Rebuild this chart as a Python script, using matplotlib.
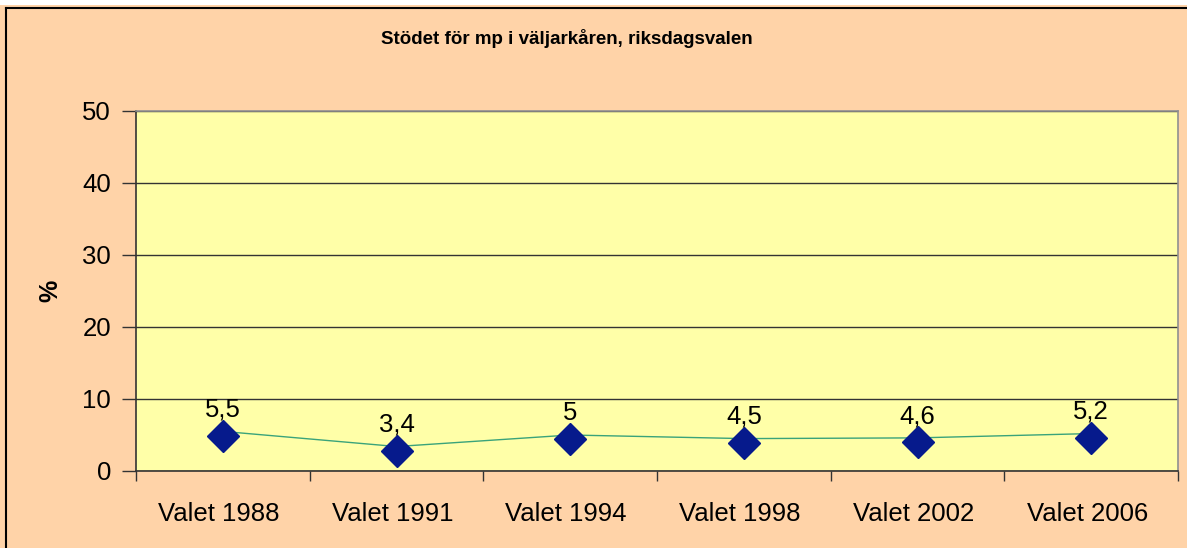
import matplotlib
matplotlib.use("Agg")
import matplotlib.pyplot as plt
from matplotlib.patches import Rectangle
import matplotlib.transforms as mtransforms

categories = ["Valet 1988", "Valet 1991", "Valet 1994", "Valet 1998", "Valet 2002", "Valet 2006"]
values = [5.5, 3.4, 5.0, 4.5, 4.6, 5.2]
labels = ["5,5", "3,4", "5", "4,5", "4,6", "5,2"]
yticks = [0, 10, 20, 30, 40, 50]

plt.rcParams['font.family'] = ['Liberation Sans', 'DejaVu Sans']

W, H = 1187, 548
fig = plt.figure(figsize=(W / 100, H / 100), dpi=100, facecolor='#FFD3A8')
# white strip at top and black border
fig.patches.append(Rectangle((0, 1 - 5 / H), 1, 5 / H, transform=fig.transFigure,
                             facecolor='white', edgecolor='none', zorder=0))
fig.add_artist(plt.Line2D([6 / W, 1], [1 - 8 / H, 1 - 8 / H], color='black', lw=1.5,
                          transform=fig.transFigure))
fig.add_artist(plt.Line2D([6 / W, 6 / W], [0, 1 - 8 / H], color='black', lw=1.5,
                          transform=fig.transFigure))

left, right, top, bottom = 136, 1178, 111, 471
ax = fig.add_axes([left / W, 1 - bottom / H, (right - left) / W, (bottom - top) / H])
ax.set_facecolor('#FFFFA8')

x = list(range(len(categories)))
ax.plot(x, values, color='#3AA37A', lw=1.0, zorder=3)
off = mtransforms.ScaledTranslation(0, -3 / 72, fig.dpi_scale_trans)
ax.plot(x, values, linestyle='none', marker='D', markersize=16,
        markerfacecolor='#061A8C', markeredgecolor='#061A8C',
        transform=ax.transData + off, zorder=4)
for xi, v, lab in zip(x, values, labels):
    ax.annotate(lab, (xi, v), xytext=(0, 7), textcoords='offset points',
                ha='center', va='bottom', fontsize=18.5, color='black', zorder=5)

ax.set_xlim(-0.5, len(categories) - 0.5)
ax.set_ylim(0, 50)
ax.set_yticks(yticks)
ax.set_yticklabels([str(t) for t in yticks], fontsize=18.5)
ax.yaxis.grid(True, color='#333333', lw=1.0)
ax.set_axisbelow(True)
ax.set_xticks(x)
ax.set_xticklabels(categories, fontsize=18.5)
ax.set_xticks([i - 0.5 for i in range(len(categories) + 1)], minor=True)
ax.tick_params(axis='x', which='major', length=0, pad=22)
ax.tick_params(axis='x', which='minor', length=7, width=1, color='#333333', direction='out')
ax.tick_params(axis='y', length=10, width=1, color='#333333', pad=8)
lab_off = mtransforms.ScaledTranslation(-4 / 100, 0, fig.dpi_scale_trans)
for t in ax.get_xticklabels():
    t.set_transform(t.get_transform() + lab_off)

for s in ['left', 'bottom']:
    ax.spines[s].set_color('#333333')
    ax.spines[s].set_linewidth(1.2)
for s in ['top', 'right']:
    ax.spines[s].set_color('#909090')
    ax.spines[s].set_linewidth(1.2)

ax.set_ylabel('%', fontsize=18, fontweight='bold', labelpad=14)

fig.text(567 / W, 1 - 38 / H, 'Stödet för mp i väljarkåren, riksdagsvalen',
         ha='center', va='center', fontsize=13.5, fontweight='bold')

fig.savefig('out.png', dpi=100, facecolor=fig.get_facecolor())
